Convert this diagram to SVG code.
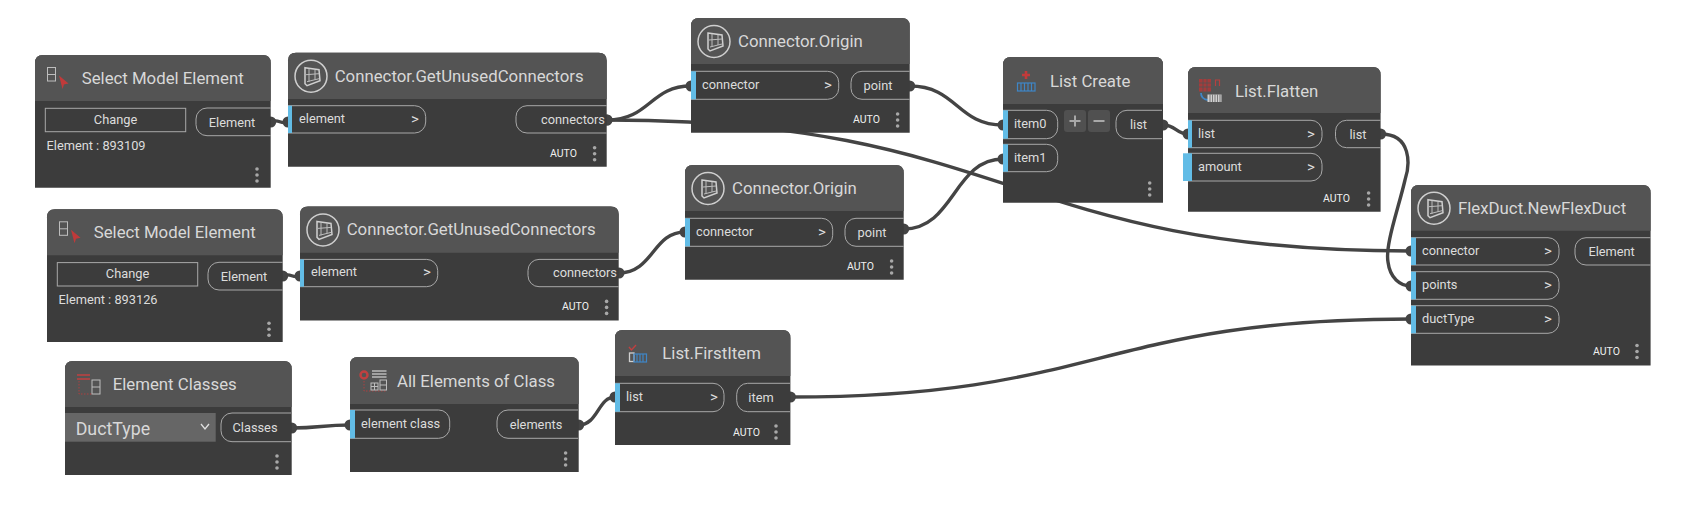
<svg xmlns="http://www.w3.org/2000/svg" xmlns:xlink="http://www.w3.org/1999/xlink" width="1686" height="518" viewBox="0 0 1686 518">
<style>
text{font-family:Roboto,"Noto Sans","Liberation Sans",sans-serif;fill:#dcdcdc}
.body{fill:#3c3c3c}
.head{fill:#545454}
.title{font-size:16.8px;fill:#d8d8d8}
.t{font-size:12.8px}
.m{text-anchor:middle}
.g{font-size:15px}
.auto{font-size:10.5px;fill:#f0f0f0}
.port{fill:none;stroke:#a8a8a8;stroke-width:1}
.blue{fill:#62bce6}
.dot{fill:#a8a8a8}
.wire{fill:none;stroke:#444;stroke-width:3.4;marker-start:url(#end);marker-end:url(#end)}
.ic{fill:none;stroke:#cfcfcf;stroke-width:1.5}
.ic1{fill:none;stroke:#bdbdbd;stroke-width:1}
.red{fill:none;stroke:#b5403f;stroke-width:1.2}
.blu{fill:none;stroke:#3f86c6;stroke-width:1.2}
</style>
<defs>
<marker id="end" markerUnits="userSpaceOnUse" markerWidth="12" markerHeight="12" refX="6" refY="6"><circle cx="6" cy="6" r="5.5" fill="#444"/></marker>
<g id="dots"><circle class="dot" cx="0" cy="-6" r="1.8"/><circle class="dot" cx="0" cy="0" r="1.8"/><circle class="dot" cx="0" cy="6" r="1.8"/></g>
<g id="cube"><circle class="ic" cx="0" cy="0.5" r="16"/><path class="ic" d="M-6,-8 L8,-6 L9,5 L-4,10 L-6,8 Z"/><path class="ic1" d="M-2,-7 V6 M4,-6 V4 M-5,-1 L8,-2 M-4,6 L8,3"/></g>
<g id="door"><rect x="-10" y="-11" width="8" height="13.5" class="ic1"/><path class="ic1" d="M-10,-4 H-2"/><path d="M1.5,-3 L11,5 L6.5,6 L5,10.5 Z" fill="#c03a3a"/></g>
</defs>

<g id="connectors">
<path class="wire" d="M607,120 C1010,120 1010,251 1411,251"/>
<path class="wire" d="M270.7,122 C279,118 280,125 288,122"/>
<path class="wire" d="M282.7,276 C291,272 292,279 300,276"/>
<path class="wire" d="M607,120 C650,120 650,86 691,86"/>
<path class="wire" d="M909.7,86 C957,86 957,125 1003,125"/>
<path class="wire" d="M903.7,229 C954,229 954,159 1003,159"/>
<path class="wire" d="M619,273 C653,273 653,232 685,232"/>
<path class="wire" d="M1163,125 C1176,125 1176,134 1188,134"/>
<path class="wire" d="M1380.6,134 C1412,134 1410,165 1405,180 C1398,210 1385,245 1388,262 C1390,278 1400,286 1411,286"/>
<path class="wire" d="M291.7,428 C320,428 322,425 350,425"/>
<path class="wire" d="M578.7,425 C598,425 598,397 615,397"/>
<path class="wire" d="M790.4,397 C1100,397 1100,319 1411,319"/>
</g>

<g id="select1" transform="translate(35,55)">
<path class="body" d="M0,132.7 V8 Q0,0 8,0 H227.7 Q235.7,0 235.7,8 V132.7 Z"/>
<path class="head" d="M0,46 V8 Q0,0 8,0 H227.7 Q235.7,0 235.7,8 V46 Z"/>
<use xlink:href="#door" href="#door" x="22.5" y="23.5"/>
<text class="title" x="46.7" y="29">Select Model Element</text>
<rect class="port" x="10.3" y="53.3" width="140.4" height="23.4"/>
<text class="t m" x="80.5" y="69">Change</text>
<path class="port" d="M235.7,53 H172 A11,11 0 0 0 161,64 V69.7 A11,11 0 0 0 172,80.7 H235.7"/>
<text class="t m" x="197" y="71.5">Element</text>
<text class="t" x="11.5" y="95">Element : 893109</text>
<use xlink:href="#dots" href="#dots" x="222" y="120"/>
</g>

<g id="unused1" transform="translate(288,52.7)">
<path class="body" d="M0,114 V8 Q0,0 8,0 H310.7 Q318.7,0 318.7,8 V114 Z"/>
<path class="head" d="M0,46.3 V8 Q0,0 8,0 H310.7 Q318.7,0 318.7,8 V46.3 Z"/>
<use xlink:href="#cube" href="#cube" x="23" y="23"/>
<text class="title" x="46.7" y="29">Connector.GetUnusedConnectors</text>
<path class="port" d="M0,53 H126.7 A11,11 0 0 1 137.7,64 V69.3 A11,11 0 0 1 126.7,80.3 H0"/>
<rect class="blue" x="0" y="53" width="4" height="27.3"/>
<text class="t" x="11" y="70">element</text>
<text class="t m g" x="127" y="71">&gt;</text>
<path class="port" d="M318.7,53 H239 A11,11 0 0 0 228,64 V69.3 A11,11 0 0 0 239,80.3 H318.7"/>
<text class="t m" x="285" y="71">connectors</text>
<text class="auto" x="262" y="104">AUTO</text>
<use xlink:href="#dots" href="#dots" x="306.6" y="101"/>
</g>

<g id="origin1" transform="translate(691,18)">
<path class="body" d="M0,114.7 V8 Q0,0 8,0 H210.7 Q218.7,0 218.7,8 V114.7 Z"/>
<path class="head" d="M0,46 V8 Q0,0 8,0 H210.7 Q218.7,0 218.7,8 V46 Z"/>
<use xlink:href="#cube" href="#cube" x="23" y="23"/>
<text class="title" x="47" y="29">Connector.Origin</text>
<path class="port" d="M0,53.3 H136.7 A11,11 0 0 1 147.7,64.3 V70.3 A11,11 0 0 1 136.7,81.3 H0"/>
<rect class="blue" x="0" y="53.3" width="5" height="28"/>
<text class="t" x="11" y="71">connector</text>
<text class="t m g" x="137" y="72">&gt;</text>
<path class="port" d="M218.7,53.3 H171 A11,11 0 0 0 160,64.3 V70.3 A11,11 0 0 0 171,81.3 H218.7"/>
<text class="t m" x="187" y="72">point</text>
<text class="auto" x="162" y="105">AUTO</text>
<use xlink:href="#dots" href="#dots" x="206.6" y="102"/>
</g>

<g id="select2" transform="translate(47,209.3)">
<path class="body" d="M0,132.7 V8 Q0,0 8,0 H227.7 Q235.7,0 235.7,8 V132.7 Z"/>
<path class="head" d="M0,46 V8 Q0,0 8,0 H227.7 Q235.7,0 235.7,8 V46 Z"/>
<use xlink:href="#door" href="#door" x="22.5" y="23.5"/>
<text class="title" x="46.7" y="29">Select Model Element</text>
<rect class="port" x="10.3" y="53.3" width="140.4" height="23.4"/>
<text class="t m" x="80.5" y="69">Change</text>
<path class="port" d="M235.7,53 H172 A11,11 0 0 0 161,64 V69.7 A11,11 0 0 0 172,80.7 H235.7"/>
<text class="t m" x="197" y="71.5">Element</text>
<text class="t" x="11.5" y="95">Element : 893126</text>
<use xlink:href="#dots" href="#dots" x="222" y="120"/>
</g>

<g id="unused2" transform="translate(300,206.4)">
<path class="body" d="M0,114 V8 Q0,0 8,0 H310.7 Q318.7,0 318.7,8 V114 Z"/>
<path class="head" d="M0,46.3 V8 Q0,0 8,0 H310.7 Q318.7,0 318.7,8 V46.3 Z"/>
<use xlink:href="#cube" href="#cube" x="23" y="23"/>
<text class="title" x="46.7" y="29">Connector.GetUnusedConnectors</text>
<path class="port" d="M0,53 H126.7 A11,11 0 0 1 137.7,64 V69.3 A11,11 0 0 1 126.7,80.3 H0"/>
<rect class="blue" x="0" y="53" width="4" height="27.3"/>
<text class="t" x="11" y="70">element</text>
<text class="t m g" x="127" y="71">&gt;</text>
<path class="port" d="M318.7,53 H239 A11,11 0 0 0 228,64 V69.3 A11,11 0 0 0 239,80.3 H318.7"/>
<text class="t m" x="285" y="71">connectors</text>
<text class="auto" x="262" y="104">AUTO</text>
<use xlink:href="#dots" href="#dots" x="306.6" y="101"/>
</g>

<g id="origin2" transform="translate(685,165)">
<path class="body" d="M0,114.7 V8 Q0,0 8,0 H210.7 Q218.7,0 218.7,8 V114.7 Z"/>
<path class="head" d="M0,46 V8 Q0,0 8,0 H210.7 Q218.7,0 218.7,8 V46 Z"/>
<use xlink:href="#cube" href="#cube" x="23" y="23"/>
<text class="title" x="47" y="29">Connector.Origin</text>
<path class="port" d="M0,53.3 H136.7 A11,11 0 0 1 147.7,64.3 V70.3 A11,11 0 0 1 136.7,81.3 H0"/>
<rect class="blue" x="0" y="53.3" width="5" height="28"/>
<text class="t" x="11" y="71">connector</text>
<text class="t m g" x="137" y="72">&gt;</text>
<path class="port" d="M218.7,53.3 H171 A11,11 0 0 0 160,64.3 V70.3 A11,11 0 0 0 171,81.3 H218.7"/>
<text class="t m" x="187" y="72">point</text>
<text class="auto" x="162" y="105">AUTO</text>
<use xlink:href="#dots" href="#dots" x="206.6" y="102"/>
</g>

<g id="listcreate" transform="translate(1003,57)">
<path class="body" d="M0,145.7 V8 Q0,0 8,0 H152 Q160,0 160,8 V145.7 Z"/>
<path class="head" d="M0,47 V8 Q0,0 8,0 H152 Q160,0 160,8 V47 Z"/>
<path d="M23,14 V22 M19,18 H27" stroke="#c23b3b" stroke-width="2.6" fill="none"/>
<rect class="blu" x="14.5" y="26" width="17.5" height="8"/>
<path class="blu" d="M18,26 V34 M21.5,26 V34 M25,26 V34 M28.500,26 V34"/>
<text class="title" x="47" y="29.7">List Create</text>
<path class="port" d="M0,53.3 H43.7 A11,11 0 0 1 54.7,64.3 V70.7 A11,11 0 0 1 43.7,81.7 H0"/>
<rect class="blue" x="0" y="53.3" width="5" height="28.4"/>
<text class="t" x="11" y="71">item0</text>
<path class="port" d="M0,87.3 H43.7 A11,11 0 0 1 54.7,98.3 V103.7 A11,11 0 0 1 43.7,114.7 H0"/>
<rect class="blue" x="0" y="87.3" width="5" height="27.4"/>
<text class="t" x="11" y="105">item1</text>
<rect x="61" y="53" width="22" height="22" rx="3" fill="#505050"/>
<rect x="85" y="53" width="22" height="22" rx="3" fill="#505050"/>
<path d="M66.5,64 H77.5 M72,58.5 V69.5 M90.5,64 H101.5" stroke="#a8a8a8" stroke-width="2" fill="none"/>
<path class="port" d="M159,53.3 H124 A11,11 0 0 0 113,64.3 V70.7 A11,11 0 0 0 124,81.7 H159"/>
<text class="t m" x="135.5" y="72">list</text>
<use xlink:href="#dots" href="#dots" x="146.7" y="132"/>
</g>

<g id="flatten" transform="translate(1188,67)">
<path class="body" d="M0,144.8 V8 Q0,0 8,0 H184.6 Q192.6,0 192.6,8 V144.8 Z"/>
<path class="head" d="M0,46 V8 Q0,0 8,0 H184.6 Q192.6,0 192.6,8 V46 Z"/>
<rect x="11" y="12" width="12" height="12.500" fill="#a33c3c"/>
<path d="M15,12 V24.500 M19,12 V24.500 M11,16 H23 M11,20 H23" stroke="#545454" stroke-width="0.8" fill="none"/>
<path class="red" d="M27.500,19 V13 H31.500 V19"/>
<path class="blu" d="M13,26 Q13,32 20,33" style="stroke-width:1.8"/>
<rect x="19.500" y="27.500" width="14" height="7.500" fill="#d0d0d0"/>
<path d="M22,27.500 V35 M24.500,27.500 V35 M27,27.500 V35 M29.500,27.500 V35 M32,27.500 V35" stroke="#545454" stroke-width="0.7" fill="none"/>
<text class="title" x="47" y="29.7">List.Flatten</text>
<path class="port" d="M0,53.3 H123 A11,11 0 0 1 134,64.3 V69.7 A11,11 0 0 1 123,80.7 H0"/>
<rect class="blue" x="0" y="53.3" width="4" height="27.4"/>
<text class="t" x="10" y="71">list</text>
<text class="t m g" x="123" y="72">&gt;</text>
<path class="port" d="M0,86.3 H123 A11,11 0 0 1 134,97.3 V103 A11,11 0 0 1 123,114 H0"/>
<rect class="blue" x="-5" y="86.3" width="9" height="27.7"/>
<text class="t" x="10" y="104">amount</text>
<text class="t m g" x="123" y="105">&gt;</text>
<path class="port" d="M192.6,53.3 H158.5 A11,11 0 0 0 147.5,64.3 V69.7 A11,11 0 0 0 158.5,80.7 H192.6"/>
<text class="t m" x="170" y="72">list</text>
<text class="auto" x="135" y="135">AUTO</text>
<use xlink:href="#dots" href="#dots" x="180.6" y="132"/>
</g>

<g id="flexduct" transform="translate(1411,185)">
<path class="body" d="M0,180.6 V8 Q0,0 8,0 H231.6 Q239.6,0 239.6,8 V180.6 Z"/>
<path class="head" d="M0,45.7 V8 Q0,0 8,0 H231.6 Q239.6,0 239.6,8 V45.7 Z"/>
<use xlink:href="#cube" href="#cube" x="23" y="22.7"/>
<text class="title" x="47" y="28.5">FlexDuct.NewFlexDuct</text>
<path class="port" d="M0,52.7 H137 A11,11 0 0 1 148,63.7 V69 A11,11 0 0 1 137,80 H0"/>
<rect class="blue" x="0" y="52.7" width="5" height="27.3"/>
<text class="t" x="11" y="70">connector</text>
<text class="t m g" x="137" y="71">&gt;</text>
<path class="port" d="M0,86.7 H137 A11,11 0 0 1 148,97.7 V103.3 A11,11 0 0 1 137,114.3 H0"/>
<rect class="blue" x="0" y="86.7" width="5" height="27.6"/>
<text class="t" x="11" y="104">points</text>
<text class="t m g" x="137" y="105">&gt;</text>
<path class="port" d="M0,120.7 H137 A11,11 0 0 1 148,131.7 V137.3 A11,11 0 0 1 137,148.3 H0"/>
<rect class="blue" x="0" y="120.7" width="5" height="27.6"/>
<text class="t" x="11" y="138">ductType</text>
<text class="t m g" x="137" y="139">&gt;</text>
<path class="port" d="M239.6,52.7 H175 A11,11 0 0 0 164,63.7 V69 A11,11 0 0 0 175,80 H239.6"/>
<text class="t m" x="200.6" y="71">Element</text>
<text class="auto" x="182" y="170">AUTO</text>
<use xlink:href="#dots" href="#dots" x="226" y="166.5"/>
</g>

<g id="classes" transform="translate(65,361)">
<path class="body" d="M0,114 V8 Q0,0 8,0 H218.7 Q226.7,0 226.7,8 V114 Z"/>
<path class="head" d="M0,46 V8 Q0,0 8,0 H218.7 Q226.7,0 226.7,8 V46 Z"/>
<path d="M12,14 H25 M12,18 H25" stroke="#c04040" stroke-width="1.4" fill="none"/>
<path class="red" d="M14,20 V33 H27" stroke-dasharray="1.5 1.5" style="stroke-width:0.9"/>
<rect class="ic1" x="27" y="19" width="8" height="14"/>
<path class="ic1" d="M27,26 H35"/>
<text class="title" x="47.7" y="29">Element Classes</text>
<rect x="0" y="52" width="150.7" height="28.7" fill="#666"/>
<text x="10.7" y="74" style="font-size:17.800px;fill:#d8d8d8">DuctType</text>
<path d="M136,63 L140,68 L144,63" fill="none" stroke="#e0e0e0" stroke-width="1.3"/>
<path class="port" d="M226,52 H167 A11,11 0 0 0 156,63 V69.7 A11,11 0 0 0 167,80.7 H226"/>
<text class="t m" x="190" y="71">Classes</text>
<use xlink:href="#dots" href="#dots" x="212" y="101"/>
</g>

<g id="allelements" transform="translate(350,357)">
<path class="body" d="M0,115 V8 Q0,0 8,0 H220.7 Q228.7,0 228.7,8 V115 Z"/>
<path class="head" d="M0,47 V8 Q0,0 8,0 H220.7 Q228.7,0 228.7,8 V47 Z"/>
<circle cx="14" cy="18" r="3.500" fill="none" stroke="#c04040" stroke-width="2.400"/>
<path class="red" d="M14,24 V34 H36" stroke-dasharray="1.5 1.5" style="stroke-width:0.9"/>
<path d="M22,14 H36.500 M22,17 H36.500 M22,20 H36.500" stroke="#a0a0a0" stroke-width="2" fill="none"/>
<rect class="ic1" x="21" y="26" width="7" height="7"/><path class="ic1" d="M21,29.500 H28 M24.500,26 V33"/>
<rect class="ic1" x="30" y="23" width="6.500" height="10"/><path class="ic1" d="M30,28 H36.500"/>
<text class="title" x="47" y="29.7">All Elements of Class</text>
<path class="port" d="M0,53 H88.7 A11,11 0 0 1 99.7,64 V70.3 A11,11 0 0 1 88.7,81.3 H0"/>
<rect class="blue" x="0" y="53" width="5" height="28.3"/>
<text class="t" x="11" y="71">element class</text>
<path class="port" d="M228,53 H158 A11,11 0 0 0 147,64 V70.3 A11,11 0 0 0 158,81.3 H228"/>
<text class="t m" x="186" y="72">elements</text>
<use xlink:href="#dots" href="#dots" x="215.6" y="102"/>
</g>

<g id="firstitem" transform="translate(615,330)">
<path class="body" d="M0,115 V8 Q0,0 8,0 H167.4 Q175.4,0 175.4,8 V115 Z"/>
<path class="head" d="M0,46 V8 Q0,0 8,0 H167.4 Q175.4,0 175.4,8 V46 Z"/>
<path d="M14,17 L16.500,20 L21,15" stroke="#c04040" stroke-width="1.400" fill="none"/>
<rect x="14.500" y="23" width="4.500" height="8.500" fill="none" stroke="#d0d0d0" stroke-width="1.300"/>
<rect class="blu" x="19" y="24" width="12.500" height="8"/>
<path class="blu" d="M22,24 V32 M25,24 V32 M28,24 V32"/>
<text class="title" x="47.3" y="29">List.FirstItem</text>
<path class="port" d="M0,53.3 H98 A11,11 0 0 1 109,64.3 V70.7 A11,11 0 0 1 98,81.7 H0"/>
<rect class="blue" x="0" y="53.3" width="5" height="28.4"/>
<text class="t" x="11" y="71">list</text>
<text class="t m g" x="99" y="72">&gt;</text>
<path class="port" d="M175,53.3 H132.7 A11,11 0 0 0 121.7,64.3 V70.7 A11,11 0 0 0 132.7,81.7 H175"/>
<text class="t m" x="146" y="72">item</text>
<text class="auto" x="118" y="105.5">AUTO</text>
<use xlink:href="#dots" href="#dots" x="161" y="102"/>
</g>
</svg>
